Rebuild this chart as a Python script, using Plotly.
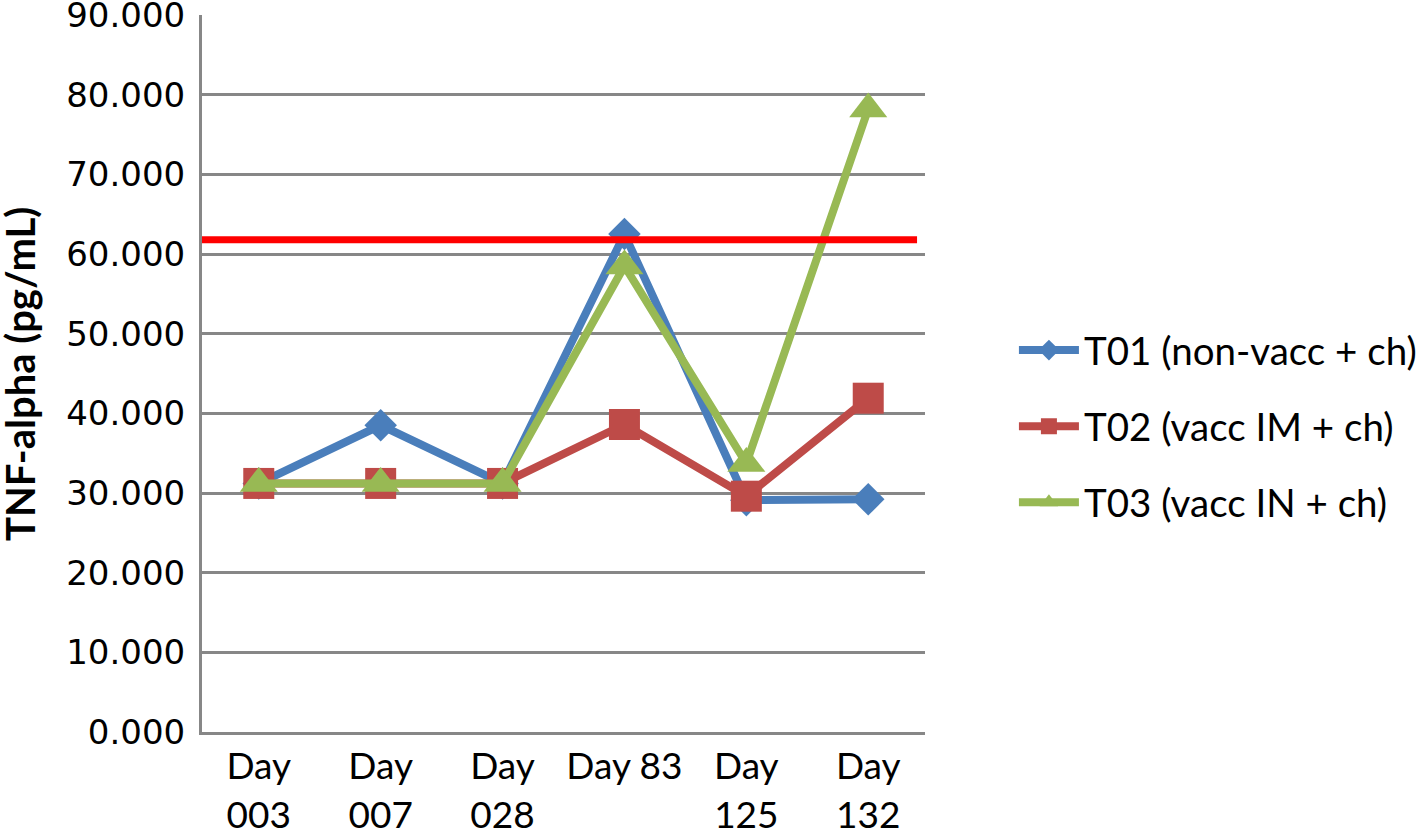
import plotly.graph_objects as go

categories = ["Day<br>003", "Day<br>007", "Day<br>028", "Day 83", "Day<br>125", "Day<br>132"]
t01 = [31.2, 38.5, 31.2, 62.5, 29.1, 29.2]
t02 = [31.2, 31.2, 31.2, 38.6, 29.6, 41.9]
t03 = [31.2, 31.2, 31.2, 58.5, 33.7, 78.2]
names = ["T01 (non-vacc + ch)", "T02 (vacc IM + ch)", "T03 (vacc IN + ch)"]
threshold = 61.8
y_ticks = [0, 10, 20, 30, 40, 50, 60, 70, 80, 90]

colors = ["#4A7EBB", "#BE4B48", "#98B954"]
symbols = ["diamond", "square", "triangle-up"]
msizes = [25, 31, 33]

fig = go.Figure()
for i, (vals, nm) in enumerate(zip([t01, t02, t03], names)):
    fig.add_trace(go.Scatter(
        x=categories, y=vals, name=nm, mode="lines+markers",
        legendgroup=f"g{i}",
        line=dict(color=colors[i], width=8),
        marker=dict(symbol=symbols[i], size=msizes[i], color=colors[i]),
    ))

fig.add_shape(type="line", xref="paper", yref="y", x0=0, x1=0.989,
              y0=threshold, y1=threshold, line=dict(color="#FF0000", width=7),
              layer="above")

fig.add_annotation(text="<b>TNF-alpha (pg/mL)</b>", textangle=-90,
                   xref="paper", yref="paper", x=-0.252, y=0.499,
                   xanchor="center", yanchor="middle", showarrow=False,
                   font=dict(family="Lato", size=40, color="black"))

fig.update_layout(
    width=1418, height=831,
    margin=dict(l=202, r=493, t=15, b=99, autoexpand=False),
    paper_bgcolor="white", plot_bgcolor="white",
    showlegend=True,
    legend=dict(x=1.123, y=0.426, xanchor="left", yanchor="middle",
                font=dict(family="Lato", size=38.5, color="black"),
                tracegroupgap=23, itemwidth=60, bgcolor="rgba(0,0,0,0)"),
    xaxis=dict(type="category", showgrid=False, showline=True,
               linecolor="#878787", linewidth=3, ticks="",
               tickfont=dict(family="Lato", size=37, color="black"),
               ticklabelstandoff=0, zeroline=False, automargin=False),
    yaxis=dict(range=[0, 90], tickvals=y_ticks, tickformat=".3f",
               showgrid=True, gridcolor="#878787", gridwidth=2.5,
               showline=True, linecolor="#878787", linewidth=3,
               ticks="", zeroline=False, automargin=False,
               ticklabeloverflow="allow",
               tickfont=dict(family="DejaVu Sans", size=34, color="black"),
               ticklabelstandoff=7),
)

fig.write_html("out.html", config={"displayModeBar": False},
               post_script="document.body.style.margin='0';document.body.style.overflow='hidden';")
